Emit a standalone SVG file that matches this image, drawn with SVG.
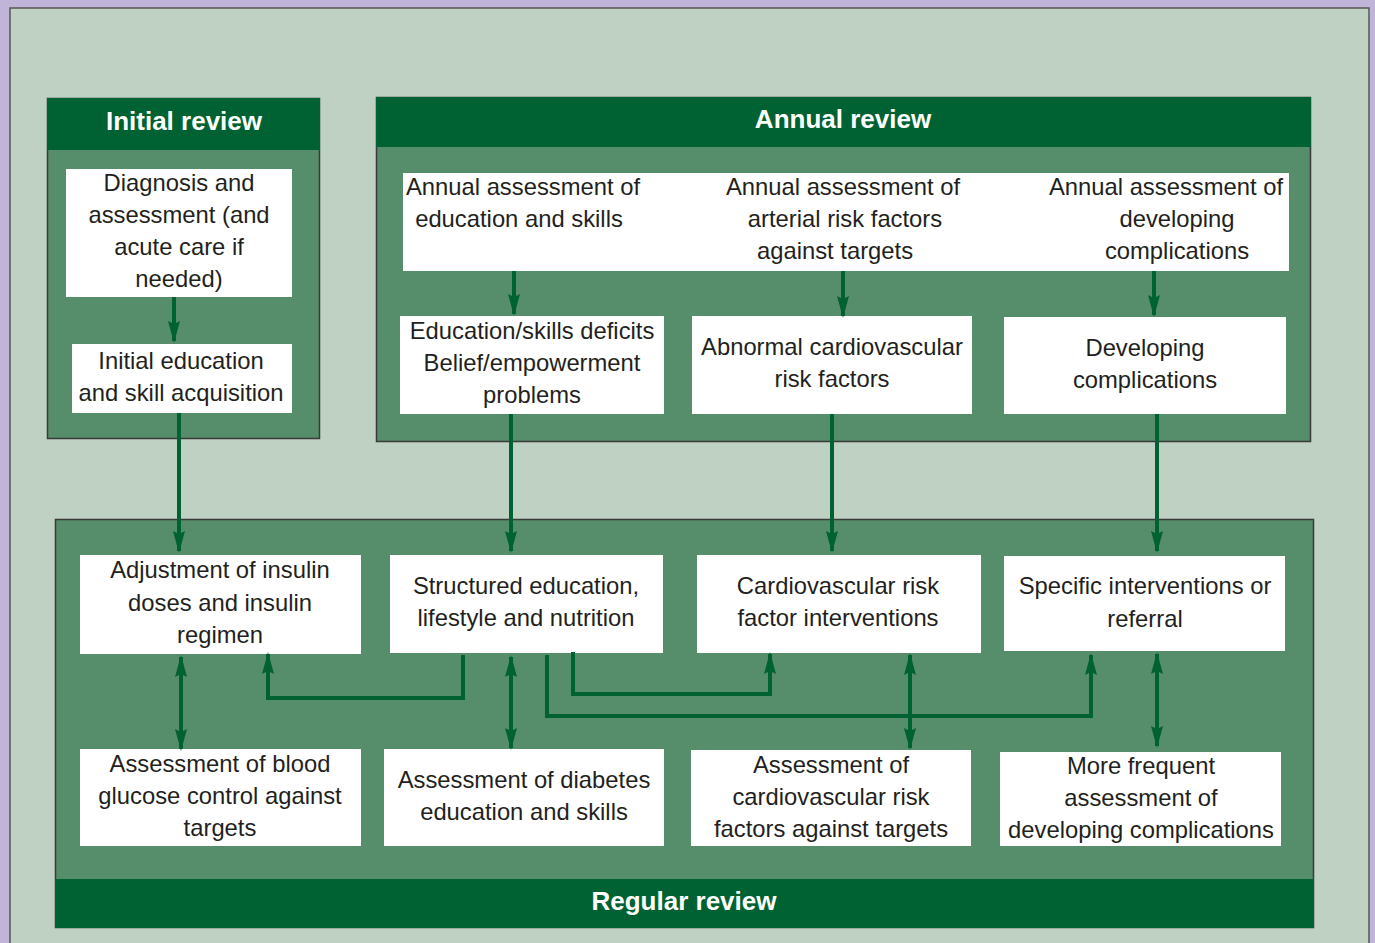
<svg xmlns="http://www.w3.org/2000/svg" width="1375" height="943" viewBox="0 0 1375 943">
<defs>
<style>
.panel{fill:#568d6a;stroke:#3a3a3a;stroke-width:1.5}
.hdr{fill:#006232}
.node{fill:#ffffff}
.t{font-family:"Gill Sans","Liberation Sans",Arial,sans-serif;font-size:23.8px;fill:#231f20;text-anchor:middle}
.h{font-family:"Gill Sans","Liberation Sans",Arial,sans-serif;font-size:26px;font-weight:bold;fill:#ffffff;text-anchor:middle}
.c{fill:none;stroke:#006232;stroke-width:4}
</style>
<marker id="a" viewBox="0 0 22 12" refX="20" refY="6" markerWidth="22" markerHeight="12" markerUnits="userSpaceOnUse" orient="auto-start-reverse">
<path d="M0,0 L22,6 L0,12 L3,6 Z" fill="#006232"/>
</marker>
</defs>
<rect x="0" y="0" width="1375" height="943" fill="#c0b5d8"/>
<rect x="10" y="8" width="1359" height="945" fill="#bfd1c3" stroke="#555" stroke-width="1.5"/>

<g id="initial-review">
<rect class="panel" x="47.5" y="98.5" width="272" height="340"/>
<rect class="hdr" x="47" y="98" width="273" height="52"/>
<text class="h" x="184" y="130">Initial review</text>
</g>
<g id="annual-review">
<rect class="panel" x="376.5" y="97.5" width="934" height="344"/>
<rect class="hdr" x="376" y="97" width="935" height="50"/>
<text class="h" x="843" y="128">Annual review</text>
</g>
<g id="regular-review">
<rect class="panel" x="55.5" y="519.5" width="1258" height="408"/>
<rect class="hdr" x="55" y="879" width="1259" height="49"/>
<text class="h" x="684" y="910">Regular review</text>
</g>

<g id="n-diagnosis"><rect class="node" x="66" y="169" width="226" height="128"/>
<text class="t"><tspan x="179" y="191">Diagnosis and</tspan><tspan x="179" y="223">assessment (and</tspan><tspan x="179" y="255">acute care if</tspan><tspan x="179" y="287">needed)</tspan></text></g>
<g id="n-initial-edu"><rect class="node" x="72" y="344" width="220" height="69"/>
<text class="t"><tspan x="181" y="369">Initial education</tspan><tspan x="181" y="401">and skill acquisition</tspan></text></g>

<g id="n-annual-edu"><rect class="node" x="403" y="173" width="313" height="98"/>
<text class="t"><tspan x="523" y="195">Annual assessment of</tspan><tspan x="519" y="227">education and skills</tspan></text></g>
<g id="n-annual-arterial"><rect class="node" x="715" y="173" width="296" height="98"/>
<text class="t"><tspan x="843" y="195">Annual assessment of</tspan><tspan x="845" y="227">arterial risk factors</tspan><tspan x="835" y="259">against targets</tspan></text></g>
<g id="n-annual-compl"><rect class="node" x="1010" y="173" width="279" height="98"/>
<text class="t"><tspan x="1166" y="195">Annual assessment of</tspan><tspan x="1177" y="227">developing</tspan><tspan x="1177" y="259">complications</tspan></text></g>

<g id="n-edu-deficits"><rect class="node" x="400" y="316" width="264" height="98"/>
<text class="t"><tspan x="532" y="339">Education/skills deficits</tspan><tspan x="532" y="371">Belief/empowerment</tspan><tspan x="532" y="403">problems</tspan></text></g>
<g id="n-abnormal-cv"><rect class="node" x="692" y="316" width="280" height="98"/>
<text class="t"><tspan x="832" y="355">Abnormal cardiovascular</tspan><tspan x="832" y="387">risk factors</tspan></text></g>
<g id="n-developing"><rect class="node" x="1004" y="317" width="282" height="97"/>
<text class="t"><tspan x="1145" y="356">Developing</tspan><tspan x="1145" y="388">complications</tspan></text></g>

<g id="n-adjust-insulin"><rect class="node" x="80" y="555" width="281" height="99"/>
<text class="t"><tspan x="220" y="578">Adjustment of insulin</tspan><tspan x="220" y="611">doses and insulin</tspan><tspan x="220" y="643">regimen</tspan></text></g>
<g id="n-structured-edu"><rect class="node" x="390" y="555" width="273" height="98"/>
<text class="t"><tspan x="526" y="594">Structured education,</tspan><tspan x="526" y="626">lifestyle and nutrition</tspan></text></g>
<g id="n-cv-interventions"><rect class="node" x="697" y="555" width="284" height="98"/>
<text class="t"><tspan x="838" y="594">Cardiovascular risk</tspan><tspan x="838" y="626">factor interventions</tspan></text></g>
<g id="n-specific"><rect class="node" x="1004" y="556" width="281" height="95"/>
<text class="t"><tspan x="1145" y="594">Specific interventions or</tspan><tspan x="1145" y="627">referral</tspan></text></g>

<g id="n-assess-glucose"><rect class="node" x="80" y="749" width="281" height="97"/>
<text class="t"><tspan x="220" y="772">Assessment of blood</tspan><tspan x="220" y="804">glucose control against</tspan><tspan x="220" y="836">targets</tspan></text></g>
<g id="n-assess-edu"><rect class="node" x="384" y="749" width="280" height="97"/>
<text class="t"><tspan x="524" y="788">Assessment of diabetes</tspan><tspan x="524" y="820">education and skills</tspan></text></g>
<g id="n-assess-cv"><rect class="node" x="691" y="750" width="280" height="96"/>
<text class="t"><tspan x="831" y="773">Assessment of</tspan><tspan x="831" y="805">cardiovascular risk</tspan><tspan x="831" y="837">factors against targets</tspan></text></g>
<g id="n-more-frequent"><rect class="node" x="1000" y="752" width="281" height="94"/>
<text class="t"><tspan x="1141" y="774">More frequent</tspan><tspan x="1141" y="806">assessment of</tspan><tspan x="1141" y="838">developing complications</tspan></text></g>

<g id="connectors">
<path class="c" d="M174,297 V341" marker-end="url(#a)"/>
<path class="c" d="M179,413 V551" marker-end="url(#a)"/>
<path class="c" d="M514,271 V314" marker-end="url(#a)"/>
<path class="c" d="M843,271 V316" marker-end="url(#a)"/>
<path class="c" d="M1154,271 V315" marker-end="url(#a)"/>
<path class="c" d="M511,414 V551" marker-end="url(#a)"/>
<path class="c" d="M832,414 V551" marker-end="url(#a)"/>
<path class="c" d="M1157,414 V551" marker-end="url(#a)"/>
<path class="c" d="M181,657 V749" marker-start="url(#a)" marker-end="url(#a)"/>
<path class="c" d="M511,657 V748" marker-start="url(#a)" marker-end="url(#a)"/>
<path class="c" d="M910,655 V748" marker-start="url(#a)" marker-end="url(#a)"/>
<path class="c" d="M1157,654 V746" marker-start="url(#a)" marker-end="url(#a)"/>
<path class="c" d="M463,655 V698 H268 V654" marker-end="url(#a)"/>
<path class="c" d="M573,652 V694 H770 V654" marker-end="url(#a)"/>
<path class="c" d="M547,655 V716 H1091 V655" marker-end="url(#a)"/>
</g>
</svg>
